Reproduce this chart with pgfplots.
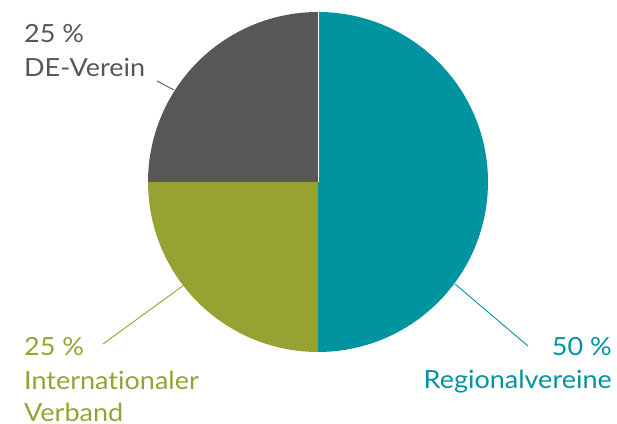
\documentclass[border=0pt]{standalone}
\usepackage{pgfplots}
\usepackage{pgfplotstable}
\pgfplotsset{compat=1.18}
\usepackage{fontspec}
\setmainfont{Lato}[FakeStretch=1.08, Ligatures=NoCommon]
\definecolor{cteal}{HTML}{0093A0}
\definecolor{cgreen}{HTML}{96A332}
\definecolor{cgray}{HTML}{575756}
\pgfplotstableread{
label value
Regionalvereine 50
DE-Verein 25
Internationaler 25
}\piedata
\begin{document}
\begin{tikzpicture}
\pgfplotstablegetelem{0}{value}\of\piedata\let\va\pgfplotsretval
\pgfplotstablegetelem{1}{value}\of\piedata\let\vb\pgfplotsretval
\pgfplotstablegetelem{2}{value}\of\piedata\let\vc\pgfplotsretval
\pgfmathsetmacro{\aA}{90}
\pgfmathsetmacro{\aB}{90-3.6*\va}
\pgfmathsetmacro{\aC}{90+3.6*\vb}
\pgfmathsetmacro{\aD}{90+3.6*\vb+3.6*\vc}
\begin{axis}[
  scale only axis, width=617bp, height=424bp,
  xmin=0, xmax=617, ymin=0, ymax=424, y dir=reverse,
  hide axis, clip=false,
]
\path (axis cs:0,0) rectangle (axis cs:617,424);
\fill[cteal] (axis cs:318,182) -- ++(\aA:170bp) arc[start angle=\aA, end angle=\aB, radius=170bp] -- cycle;
\fill[cgray] (axis cs:318,182) -- ++(\aA:170bp) arc[start angle=\aA, end angle=\aC, radius=170bp] -- cycle;
\fill[cgreen] (axis cs:318,182) -- ++(\aC:170bp) arc[start angle=\aC, end angle=\aD, radius=170bp] -- cycle;
\draw[white, line width=0.4pt] (axis cs:318,182) -- (axis cs:318,12);
\draw[cgray, line width=0.9pt] (axis cs:157,81) -- (axis cs:174,90);
\draw[cgreen, line width=0.9pt] (axis cs:103,344) -- (axis cs:184,285);
\draw[cteal, line width=0.9pt] (axis cs:455,284) -- (axis cs:528,346);
\begin{scope}[every node/.style={inner sep=0pt, font=\fontsize{25bp}{34bp}\selectfont}]
\node[anchor=base west, text=cgray] at (axis cs:24,43) {25 \%};
\node[anchor=base west, text=cgray] at (axis cs:24,77) {DE-Verein};
\node[anchor=base west, text=cgreen] at (axis cs:24,355) {25 \%};
\node[anchor=base west, text=cgreen] at (axis cs:24,389) {Internationaler};
\node[anchor=base west, text=cgreen] at (axis cs:24,421) {Verband};
\node[anchor=base east, text=cteal] at (axis cs:612,355) {50 \%};
\node[anchor=base east, text=cteal] at (axis cs:612,388) {Regionalvereine};
\end{scope}
\end{axis}
\end{tikzpicture}
\end{document}
